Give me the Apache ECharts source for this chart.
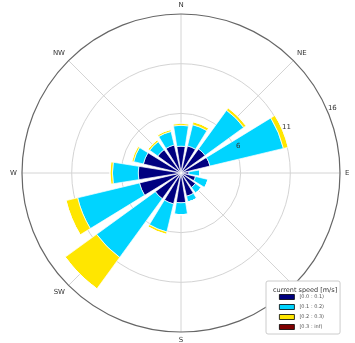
<!DOCTYPE html>
<html>
<head>
<meta charset="utf-8">
<script src="https://cdn.jsdelivr.net/npm/echarts@6/dist/echarts.min.js"></script>
<style>
  html, body { margin: 0; padding: 0; background: #fff; }
  #chart { width: 355px; height: 343px; }
</style>
</head>
<body>
<div id="chart"></div>
<script>
// Direction sectors, clockwise from north
const directions = ['N', 'NNE', 'NE', 'ENE', 'E', 'ESE', 'SE', 'SSE',
                    'S', 'SSW', 'SW', 'WSW', 'W', 'WNW', 'NW', 'NNW'];

// Frequency per speed bin in each sector (stacked outward)
const bin00_01 = [2.7, 2.8, 3.0, 3.0, 0.8, 1.5, 1.8, 2.4, 3.0, 3.2, 3.2, 4.3, 4.3, 3.9, 2.9, 2.9];
const bin01_02 = [2.1, 2.2, 4.8, 7.6, 1.1, 1.3, 0.7, 0.6, 1.2, 2.9, 7.3, 6.4, 2.6, 1.0, 1.0, 1.4];
const bin02_03 = [0.2, 0.3, 0.3, 0.5, 0, 0, 0, 0, 0, 0.25, 3.9, 1.2, 0.25, 0.2, 0.2, 0.2];
const bin03_inf = [0, 0, 0, 0, 0, 0, 0, 0, 0, 0, 0, 0, 0, 0, 0, 0];

const binNames = ['[0.0 : 0.1)', '[0.1 : 0.2)', '[0.2 : 0.3)', '[0.3 : inf)'];
const binColors = ['#000080', '#00D4FF', '#FFE600', '#800000'];

// Compass labels for the grid spokes
const compassLabels = { 0: 'N', 45: 'NE', 90: 'E', 135: 'SE', 180: 'S', 225: 'SW', 270: 'W', 315: 'NW' };
// Radial values that carry a label
const radialTicks = [6, 11, 16];
const radialRings = [1, 6, 11];

const rMax = 16;
const center = [181, 173];
const radius = 159;

// one colour per radial tick 0..rMax, visible only on the ring values
const ringColors = [];
for (let v = 0; v <= rMax; v++) ringColors.push(radialRings.includes(v) ? '#d4d4d4' : 'rgba(0,0,0,0)');

const chart = echarts.init(document.getElementById('chart'), null, { renderer: 'canvas' });

const binData = [bin00_01, bin01_02, bin02_03, bin03_inf];

chart.setOption({
  animation: false,
  backgroundColor: '#fff',
  title: {
    text: 'current speed [m/s]',
    left: 268,
    top: 282,
    z: 20,
    textStyle: { fontSize: 6.5, fontWeight: 'normal', color: '#333', fontFamily: 'DejaVu Sans' }
  },
  legend: {
    data: binNames,
    orient: 'vertical',
    left: 266,
    top: 281,
    z: 15,
    padding: [13, 16, 4, 13],
    itemWidth: 15,
    itemHeight: 5,
    itemGap: 4,
    itemStyle: { borderColor: '#000', borderWidth: 0.8 },
    icon: 'rect',
    backgroundColor: '#fff',
    borderColor: '#cccccc',
    borderWidth: 1,
    borderRadius: 2,
    textStyle: { fontSize: 5, color: '#555', lineHeight: 6, fontFamily: 'DejaVu Sans' },
    selectedMode: false
  },
  polar: [
    { center: center, radius: radius },
    { center: center, radius: radius },
    { center: center, radius: radius }
  ],
  angleAxis: [
    {
      polarIndex: 0, type: 'category', data: directions,
      startAngle: 90 + 360 / directions.length / 2, clockwise: true,
      boundaryGap: true, show: false
    },
    {
      polarIndex: 1, type: 'value', min: 0, max: 360, interval: 45,
      startAngle: 90, clockwise: true,
      axisLine: { show: true, lineStyle: { color: '#666', width: 1.2 } },
      axisTick: { show: false },
      axisLabel: {
        margin: 5, fontSize: 7, color: '#333', fontFamily: 'DejaVu Sans',
        formatter: v => compassLabels[v] || ''
      },
      splitLine: { show: true, lineStyle: { color: '#d4d4d4', width: 1 } }
    },
    {
      polarIndex: 2, type: 'value', min: 0, max: 360,
      startAngle: 22.5, clockwise: true, show: false
    }
  ],
  radiusAxis: [
    { polarIndex: 0, type: 'value', min: 0, max: rMax, show: false },
    {
      polarIndex: 1, type: 'value', min: 0, max: rMax, interval: 1,
      axisLine: { show: false }, axisTick: { show: false }, axisLabel: { show: false },
      splitLine: { show: true, lineStyle: { color: ringColors, width: 1 } }
    },
    {
      polarIndex: 2, type: 'value', min: 0, max: rMax, interval: 1, z: 10,
      axisLine: { show: false }, axisTick: { show: false }, splitLine: { show: false },
      axisLabel: {
        fontSize: 7, color: '#333', fontFamily: 'DejaVu Sans', margin: 0,
        align: 'left', verticalAlign: 'bottom',
        formatter: v => radialTicks.includes(v) ? String(v) : ''
      }
    }
  ],
  series: binNames.map((name, i) => ({
    name: name,
    type: 'bar',
    coordinateSystem: 'polar',
    polarIndex: 0,
    stack: 'speed',
    barCategoryGap: '20%',
    data: binData[i],
    itemStyle: { color: binColors[i], borderColor: '#fff', borderWidth: 0.7 },
    z: 3
  }))
});
</script>
</body>
</html>
